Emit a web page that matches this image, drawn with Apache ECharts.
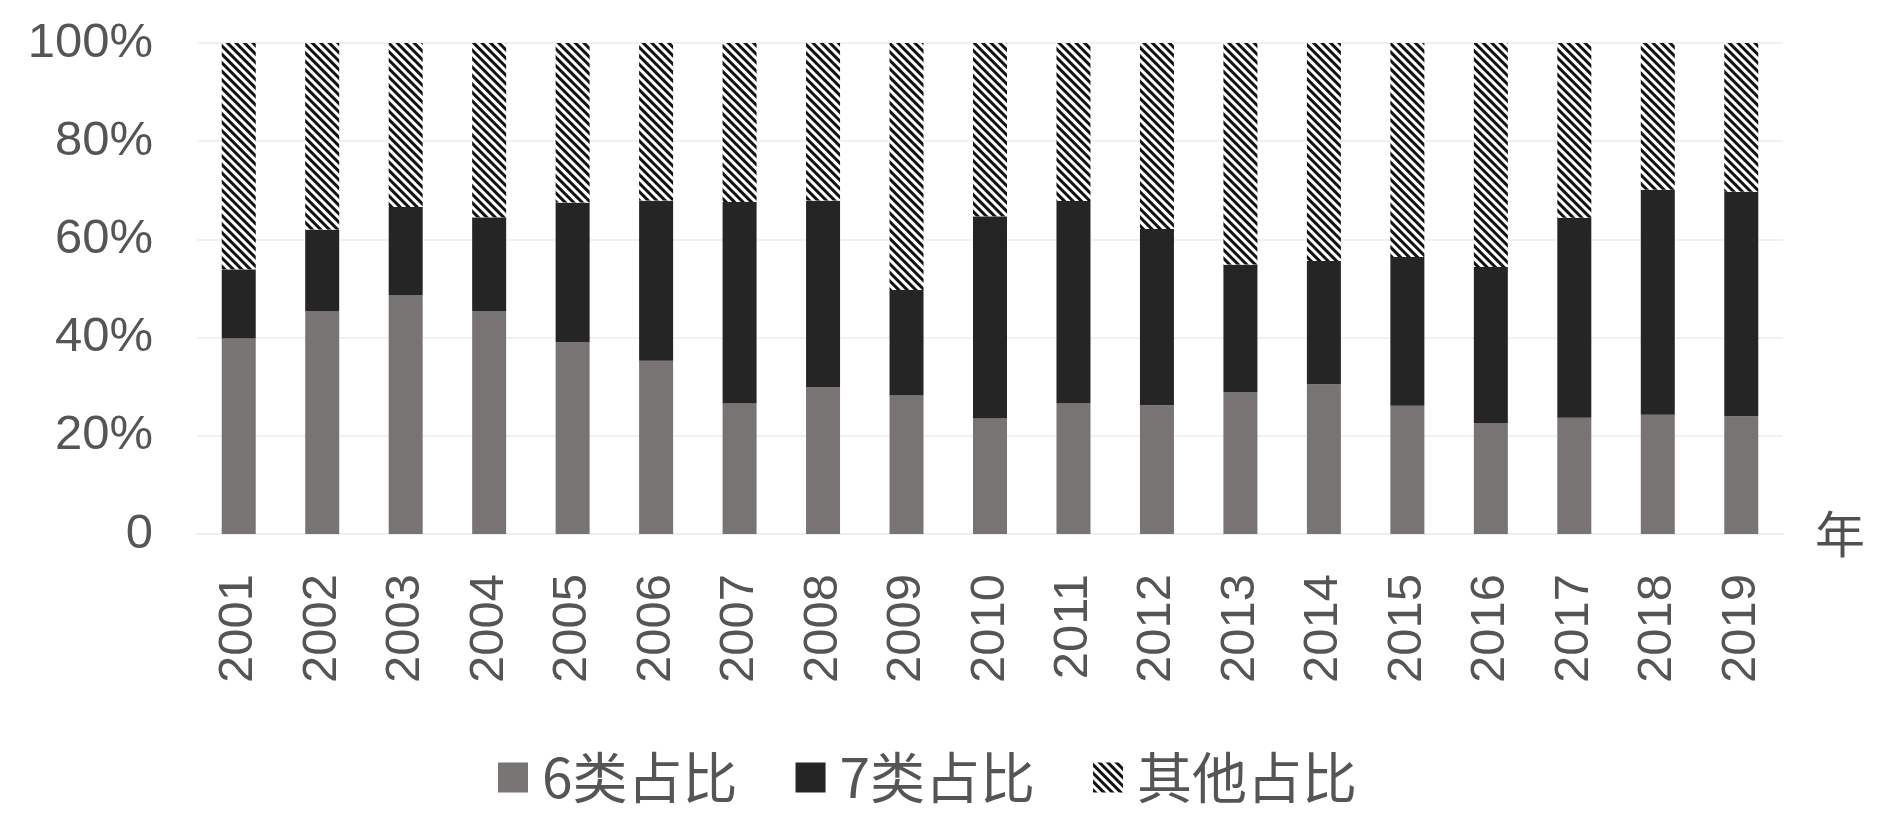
<!DOCTYPE html>
<html>
<head>
<meta charset="utf-8">
<script src="https://cdn.jsdelivr.net/npm/echarts@6/dist/echarts.min.js"></script>
<style>
  html, body { margin: 0; padding: 0; background: #fff; }
  #main { width: 1880px; height: 815px; }
</style>
</head>
<body>
<div id="main"></div>
<script>
// years on the x axis
let years = ['2001', '2002', '2003', '2004', '2005', '2006', '2007', '2008', '2009', '2010',
    '2011', '2012', '2013', '2014', '2015', '2016', '2017', '2018', '2019'];

// shares in percent
let share6 = [39.8, 45.4, 48.7, 45.4, 39.1, 35.3, 26.6, 29.9, 28.2, 23.5,
    26.6, 26.2, 28.9, 30.5, 26.1, 22.6, 23.7, 24.3, 24.0];
let share7 = [14.1, 16.6, 17.9, 19.1, 28.4, 32.6, 41.0, 38.0, 21.5, 41.2,
    41.2, 35.9, 26.0, 25.1, 30.3, 31.8, 40.7, 45.8, 45.7];
let shareOther = [46.1, 38.0, 33.4, 35.5, 32.5, 32.1, 32.4, 32.1, 50.3, 35.3,
    32.2, 37.9, 45.1, 44.4, 43.6, 45.6, 35.6, 29.9, 30.3];

let seriesNames = ['6类占比', '7类占比', '其他占比'];
let yTicks = [0, 20, 40, 60, 80, 100];

let axisFont = 'Liberation Sans, Arial, sans-serif';
let cjkFont = 'Noto Sans CJK SC, sans-serif';

let options = {
    animation: false,
    backgroundColor: '#fff',
    grid: { left: 197, right: 97, top: 43, bottom: 281 },
    legend: {
        data: seriesNames,
        left: 493,
        top: 745,
        icon: 'rect',
        itemWidth: 30,
        itemHeight: 30,
        itemGap: 58,
        textStyle: {
            fontFamily: cjkFont,
            fontSize: 55,
            color: '#555',
            padding: [0, 0, 0, 9]
        }
    },
    xAxis: {
        type: 'category',
        data: years,
        name: '年',
        nameLocation: 'end',
        nameGap: 32,
        nameTextStyle: { fontFamily: cjkFont, fontSize: 50, color: '#505050' },
        axisLine: { lineStyle: { color: '#eeeeee', width: 2 } },
        axisTick: { show: false },
        axisLabel: {
            rotate: 90,
            margin: 40,
            fontFamily: axisFont,
            fontSize: 49,
            color: '#555'
        }
    },
    yAxis: {
        type: 'value',
        min: yTicks[0],
        max: yTicks[yTicks.length - 1],
        interval: 20,
        axisLine: { show: false },
        axisTick: { show: false },
        splitLine: { lineStyle: { color: '#f1f1f1', width: 2 } },
        axisLabel: {
            margin: 44,
            fontFamily: axisFont,
            fontSize: 49,
            color: '#555',
            formatter: v => v === 0 ? '0' : v + '%'
        }
    },
    series: [
        {
            name: seriesNames[0],
            type: 'bar',
            stack: 'total',
            barWidth: 34,
            data: share6,
            itemStyle: { color: '#787473' }
        },
        {
            name: seriesNames[1],
            type: 'bar',
            stack: 'total',
            barWidth: 34,
            data: share7,
            itemStyle: { color: '#252525' }
        },
        {
            name: seriesNames[2],
            type: 'bar',
            stack: 'total',
            barWidth: 34,
            data: shareOther,
            itemStyle: {
                color: '#ffffff',
                // diagonal hatch running top-left to bottom-right
                decal: {
                    symbol: 'rect',
                    symbolSize: 1,
                    color: '#111',
                    backgroundColor: '#ffffff',
                    dashArrayX: [1, 0],
                    dashArrayY: [2.5, 2.5],
                    rotation: Math.PI / 4
                }
            }
        }
    ]
};

let myChart = echarts.init(document.getElementById('main'));
myChart.setOption(options);
</script>
</body>
</html>
